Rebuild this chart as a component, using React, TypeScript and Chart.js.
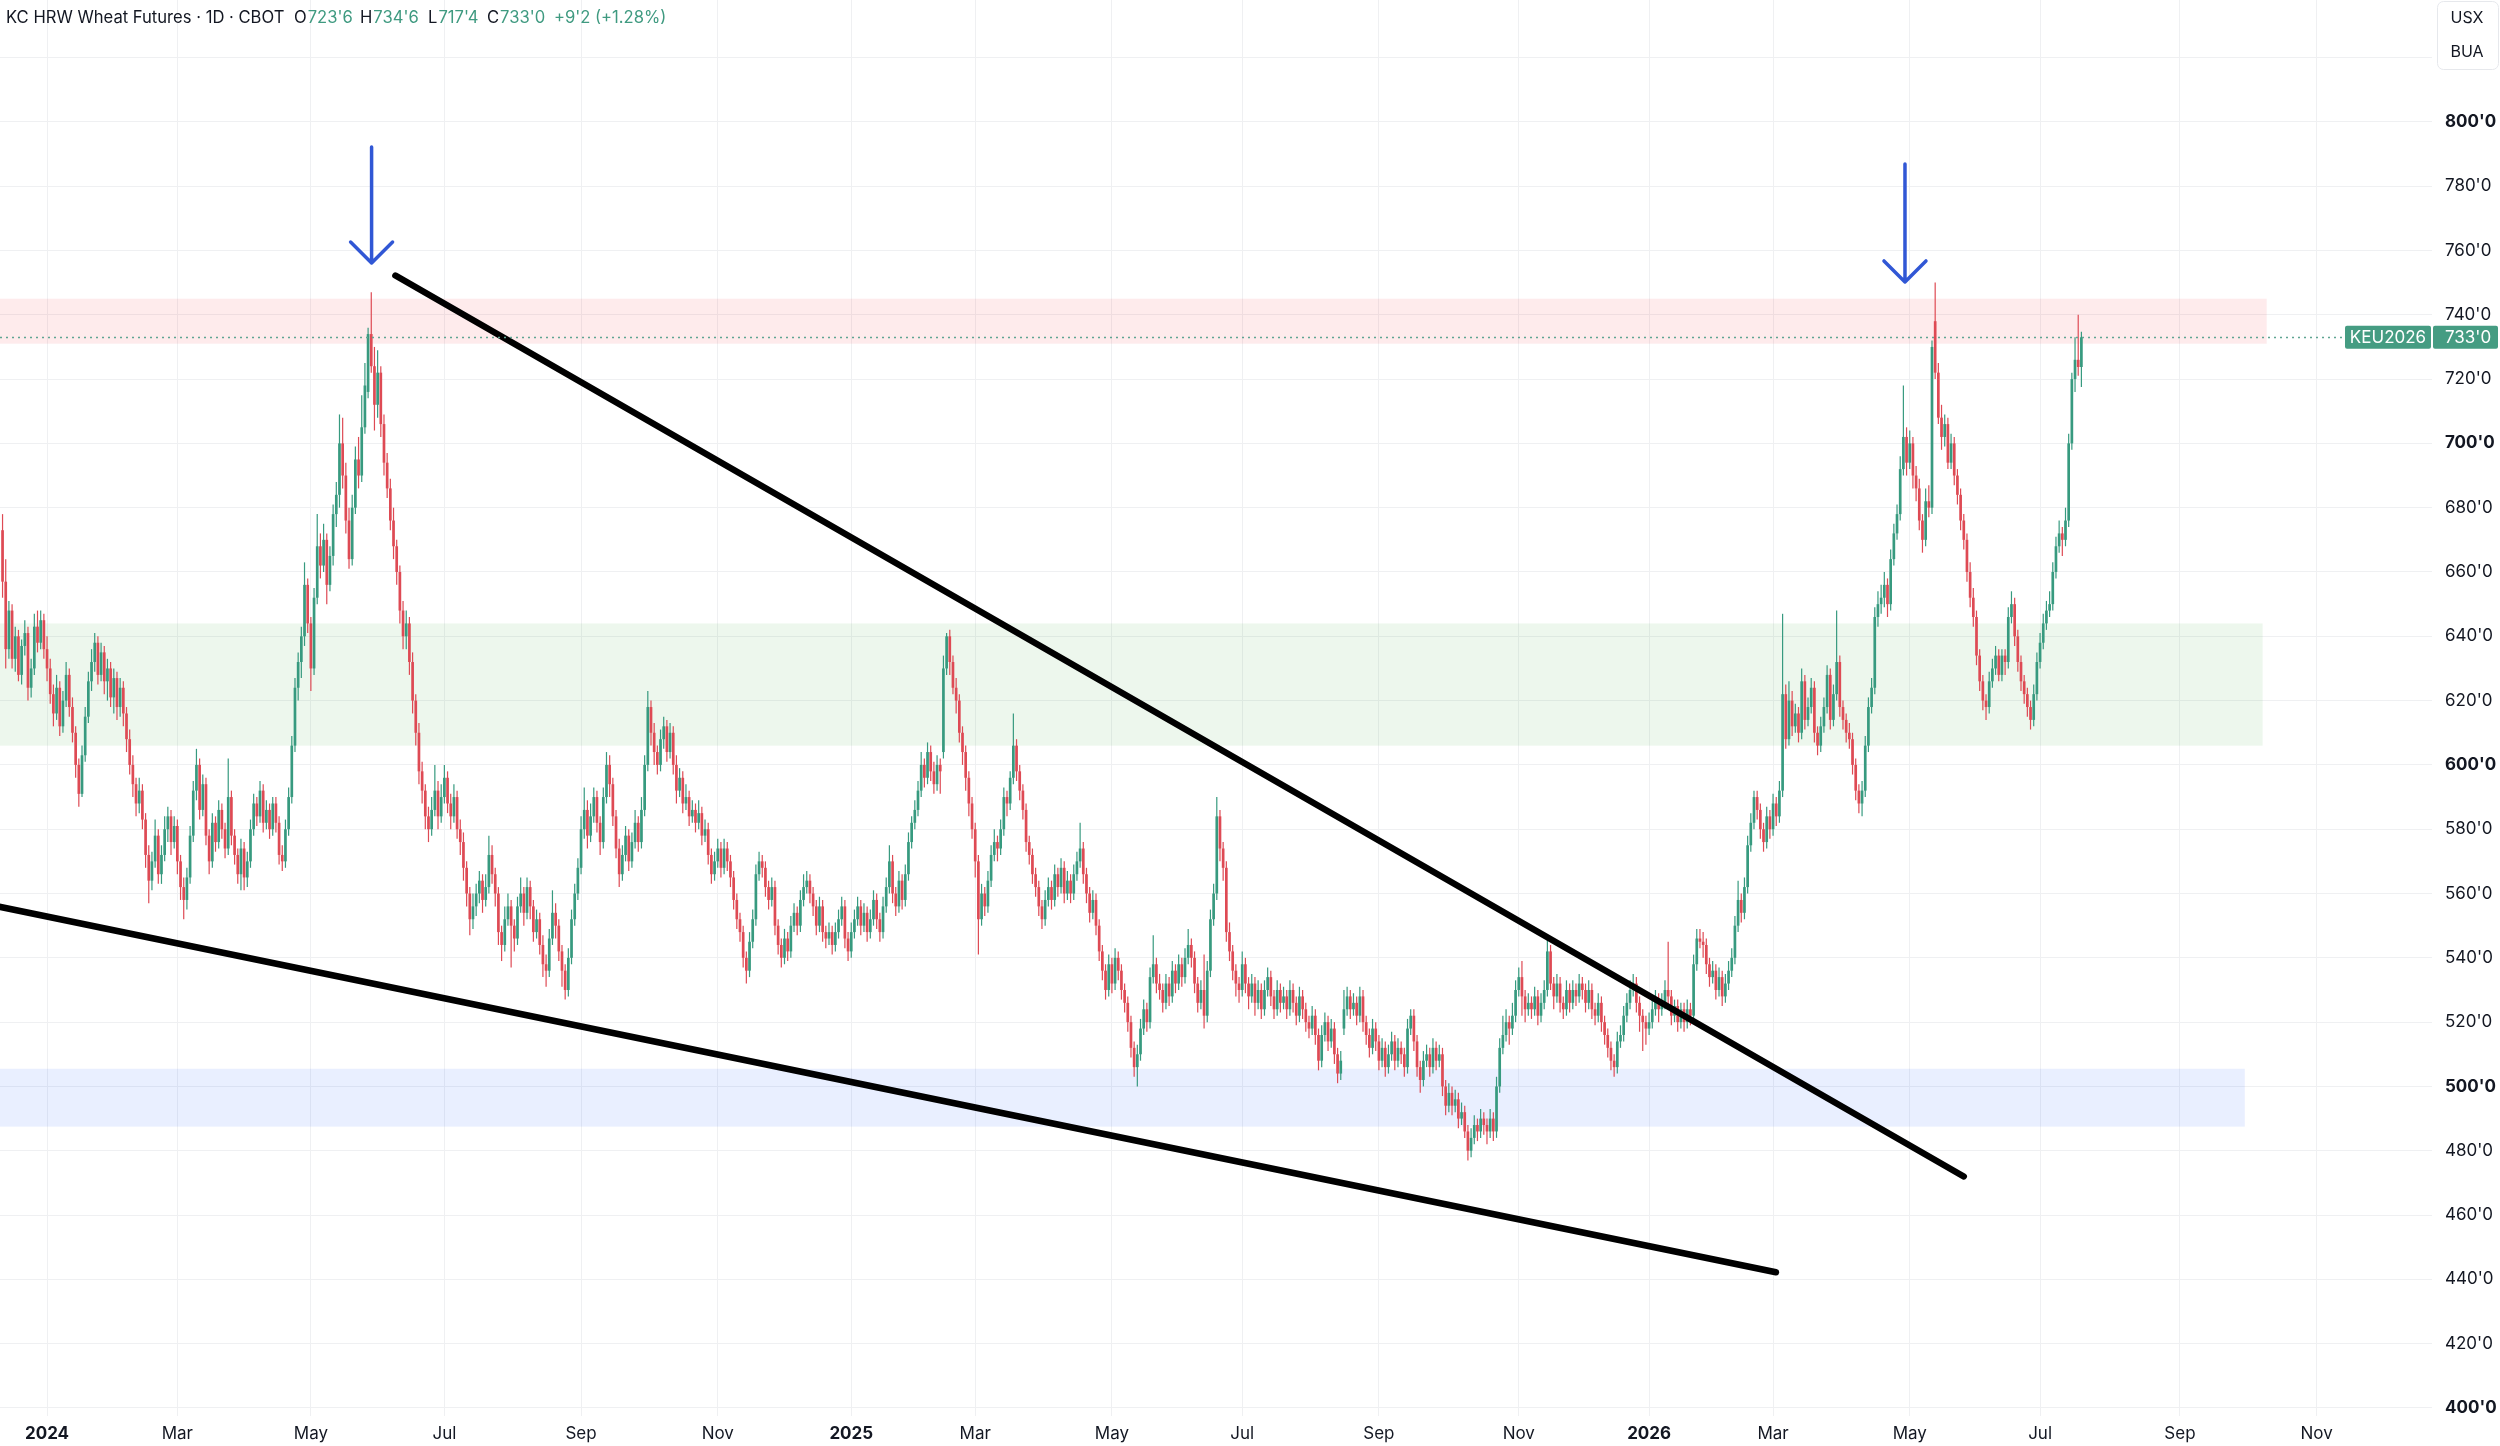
import React, { useEffect, useRef } from "react";
import { Chart, registerables } from "chart.js";

Chart.register(...registerables);

type Bar = [number, number, number, number]; // open, high, low, close

// bar index of the first candle (index 0 = first session of Jan 2024)
const FIRST_INDEX = -14;

const bars2023: Bar[] = [
  [673,678,652,657],[657,664,630,636],[636,651,633,648],[648,650,630,633],[633,643,629,640],[640,642,626,628],[628,639,625,637],[637,645,634,641],[641,643,620,624],[624,633,621,630],
  [630,647,628,643],[643,648,635,638],[638,648,636,645],[645,647,633,636],
];

const bars2024: Bar[] = [
  [636,640,626,630],[630,633,619,622],[622,625,612,616],[616,628,614,624],[624,626,609,612],[612,623,610,620],[620,632,618,628],[628,630,615,618],[618,621,607,610],[610,612,596,600],
  [600,602,587,591],[591,606,590,603],[603,618,601,615],[615,629,613,626],[626,636,623,632],[632,641,629,638],[638,640,625,628],[628,638,626,635],[635,637,622,626],[626,633,620,630],
  [630,632,618,621],[621,630,616,627],[627,629,614,618],[618,627,615,624],[624,626,612,616],[616,618,604,608],[608,611,597,600],[600,603,590,594],[594,596,584,588],[588,596,585,592],
  [592,594,580,583],[583,585,568,572],[572,575,557,564],[564,573,561,570],[570,583,568,578],[578,580,563,566],[566,575,563,572],[572,584,570,580],[580,587,576,584],[584,586,572,576],
  [576,584,574,581],[581,583,566,570],[570,572,558,562],[562,565,552,558],[558,568,555,565],[565,581,563,578],[578,595,576,592],[592,605,589,600],[600,602,583,586],[586,597,584,594],
  [594,596,575,578],[578,580,566,570],[570,585,568,582],[582,584,573,576],[576,589,574,586],[586,588,577,580],[580,582,571,574],[574,602,572,590],[590,592,575,578],[578,580,569,572],
  [572,574,563,566],[566,577,561,574],[574,576,561,565],[565,573,562,570],[570,583,568,580],[580,591,578,588],[588,590,581,584],[584,595,582,592],[592,594,579,582],[582,589,580,586],
  [586,588,577,580],[580,590,578,588],[588,590,579,582],[582,584,569,572],[572,575,567,570],[570,583,568,580],[580,593,578,590],[590,609,588,606],[606,627,604,624],[624,635,620,632],
  [632,643,627,640],[640,663,637,656],[656,658,641,644],[644,646,623,630],[630,655,628,652],[652,678,650,668],[668,672,658,662],[662,675,660,670],[670,672,650,656],[656,668,654,665],
  [665,681,662,678],[678,688,674,684],[684,709,680,700],[700,708,686,690],[690,694,672,676],[676,680,661,664],[664,684,662,680],[680,699,678,695],[695,702,686,690],[690,715,688,705],
  [705,725,703,718],[716,736,714,734],[734,747,722,724],[724,730,704,712],[712,729,708,722],[722,724,702,706],[706,709,690,694],[694,697,683,686],[686,689,673,676],[676,680,664,668],
  [668,670,656,660],[660,662,644,648],[648,651,636,640],[640,648,636,644],[644,646,628,632],[632,635,616,620],[620,622,606,610],[610,613,594,598],[598,601,588,592],[592,594,580,584],
  [584,587,576,580],[580,590,578,586],[586,600,584,592],[592,595,580,584],[584,594,582,590],[590,600,588,596],[596,598,585,588],[588,591,580,584],[584,594,582,590],[590,592,577,580],
  [580,583,572,576],[576,579,564,568],[568,570,556,560],[560,562,547,552],[552,560,549,556],[556,563,553,560],[560,567,557,564],[564,566,554,558],[558,566,556,562],[562,578,560,572],
  [572,575,563,566],[566,568,556,560],[560,562,544,548],[548,550,539,544],[544,556,542,552],[552,560,550,556],[556,558,537,550],[550,552,542,546],[546,559,544,556],[556,565,554,560],
  [560,562,550,554],[554,565,552,562],[562,564,552,556],[556,558,545,548],[548,555,546,552],[552,554,541,544],[544,547,534,538],[538,541,531,536],[536,549,534,546],[546,561,544,554],
  [554,557,546,550],[550,552,539,542],[542,544,531,536],[536,538,527,530],[530,543,528,540],[540,555,538,552],[552,563,550,560],[560,571,558,568],[568,584,566,580],[580,593,577,586],
  [586,589,574,578],[578,588,576,584],[584,593,582,590],[590,592,579,582],[582,584,572,576],[576,593,574,590],[590,604,588,600],[600,603,590,594],[594,596,581,584],[584,586,571,574],
  [574,577,562,566],[566,575,564,572],[572,581,570,578],[578,580,567,570],[570,579,568,576],[576,586,574,582],[582,584,573,576],[576,590,574,586],[586,603,584,600],[600,623,598,618],
  [618,620,606,610],[610,613,600,604],[604,606,597,600],[600,611,598,608],[608,615,605,612],[612,614,601,604],[604,613,602,610],[610,612,597,600],[600,603,588,592],[592,599,590,596],
  [596,598,585,588],[588,594,586,590],[590,592,581,584],[584,589,582,586],[586,588,579,582],[582,589,580,585],[585,587,575,578],[578,583,576,580],[580,582,569,572],[572,574,563,566],
  [566,573,564,570],[570,577,568,574],[574,576,565,568],[568,577,566,574],[574,576,567,570],[570,572,562,565],[565,567,555,558],[558,560,549,552],[552,554,545,548],[548,550,537,540],
  [540,542,532,536],[536,548,534,545],[545,555,543,552],[552,569,550,566],[566,573,564,570],[570,572,565,568],[568,570,559,562],[562,564,555,558],[558,565,556,562],[562,564,547,550],
  [550,552,541,544],[544,546,537,540],[540,549,538,546],[546,548,539,542],[542,553,540,550],[550,557,548,554],[554,556,547,550],[550,561,548,558],[558,566,556,562],[562,567,560,564],
  [564,566,557,560],[560,562,553,556],[556,558,547,550],[550,559,548,556],[556,558,545,548],[548,550,543,546],[546,551,544,548],[548,550,541,544],[544,551,542,548],[548,555,546,552],
  [552,559,550,556],[556,558,543,546],
];

const bars2025: Bar[] = [
  [546,548,539,542],[542,551,540,548],[548,555,546,552],[552,559,550,556],[556,558,547,550],[550,557,548,554],[554,556,545,548],[548,555,546,552],[552,561,550,558],[558,560,549,552],
  [552,554,545,548],[548,559,546,556],[556,565,554,562],[562,575,560,570],[570,572,557,560],[560,562,553,556],[556,567,554,564],[564,566,555,558],[558,569,556,566],[566,579,564,576],
  [576,584,574,582],[582,589,580,586],[586,595,584,592],[592,604,590,600],[600,602,593,596],[596,607,594,604],[604,606,595,598],[598,601,591,594],[594,603,592,600],[600,602,591,598],
  [604,634,602,630],[630,641,628,640],[640,642,628,632],[632,634,622,624],[624,627,616,620],[620,622,607,610],[610,612,600,604],[604,606,592,596],[596,598,584,588],[588,590,577,580],
  [580,582,565,570],[570,572,541,552],[552,563,550,560],[560,562,553,556],[556,567,554,564],[564,575,562,572],[572,580,570,576],[576,578,570,574],[574,583,572,580],[580,593,578,590],
  [590,592,584,588],[588,598,586,596],[596,616,594,606],[606,608,595,598],[598,600,589,592],[592,594,583,586],[586,588,573,576],[576,578,569,572],[572,574,563,566],[566,568,559,562],
  [562,564,553,556],[556,558,549,552],[552,561,550,558],[558,565,556,562],[562,564,555,558],[558,569,556,566],[566,568,559,562],[562,571,560,568],[568,570,557,560],[560,567,558,564],
  [564,566,557,560],[560,569,558,566],[566,573,564,570],[570,582,568,574],[574,576,563,566],[566,568,557,560],[560,562,551,554],[554,561,552,558],[558,560,547,550],[550,552,539,542],
  [542,544,533,536],[536,538,527,530],[530,541,528,538],[538,540,529,532],[532,543,530,540],[540,542,533,536],[536,538,527,530],[530,532,523,526],[526,528,517,520],[520,522,509,512],
  [512,514,503,506],[506,513,500,510],[510,521,508,518],[518,527,516,524],[524,526,517,520],[520,537,518,534],[534,547,532,538],[538,540,529,532],[532,535,527,530],[530,532,523,526],
  [526,535,524,532],[532,534,525,528],[528,539,526,536],[536,538,529,532],[532,541,530,538],[538,540,531,534],[534,543,532,540],[540,549,538,544],[544,546,537,540],[540,542,529,532],
  [532,534,523,526],[526,533,524,530],[530,541,518,522],[522,539,520,536],[536,555,534,552],[552,563,550,560],[560,590,558,584],[584,586,570,574],[574,576,564,568],[568,570,545,548],
  [548,551,539,542],[542,544,533,536],[536,538,528,532],[532,534,526,530],[530,542,528,538],[538,540,529,532],[532,534,524,528],[528,535,526,532],[532,534,522,526],[526,533,524,530],
  [530,532,521,524],[524,533,522,530],[530,537,528,534],[534,536,525,528],[528,530,521,524],[524,533,522,530],[530,532,523,526],[526,531,524,528],[528,530,521,524],[524,533,522,530],
  [530,532,523,526],[526,528,519,522],[522,531,520,528],[528,530,521,524],[524,526,517,520],[520,522,515,518],[518,525,516,522],[522,524,513,516],[516,518,505,508],[508,519,506,516],
  [516,523,514,520],[520,522,511,514],[514,521,512,518],[518,520,507,510],[510,512,501,504],[504,511,502,508],[518,530,516,524],[524,531,522,528],[528,530,521,524],[524,529,522,526],
  [526,528,519,522],[522,531,520,528],[528,530,517,520],[520,522,513,516],[516,518,509,512],[512,521,510,518],[518,520,511,514],[514,516,505,508],[508,515,506,512],[512,514,503,506],
  [506,513,504,510],[510,517,508,514],[514,516,505,508],[508,515,506,512],[512,514,507,510],[510,512,503,506],[506,521,504,518],[518,524,516,522],[522,524,511,514],[514,516,503,506],
  [506,508,498,502],[502,511,500,508],[508,513,506,510],[510,512,503,506],[506,515,504,512],[512,514,505,508],[508,513,506,510],[510,512,497,500],[500,502,491,494],[494,501,492,498],
  [498,500,491,494],[494,499,492,496],[496,498,487,490],[490,495,488,492],[492,494,484,486],[486,488,477,480],[480,487,478,484],[484,491,482,488],[488,490,483,486],[486,493,484,490],
  [490,492,485,488],[488,490,482,486],[486,493,484,490],[490,492,483,486],[486,503,484,500],[500,515,498,512],[512,522,510,516],[516,524,514,520],[520,522,513,518],[518,526,516,522],
  [522,533,520,530],[530,537,528,534],[534,539,522,528],[528,530,520,524],[524,529,522,526],[526,528,521,524],[524,531,522,528],[528,530,519,522],[522,529,520,526],[526,533,524,530],
  [530,547,528,542],[542,544,530,532],[532,534,524,528],[528,535,526,532],[532,534,523,526],[526,528,521,524],[524,533,522,530],[530,532,523,526],[526,533,524,530],[530,532,525,528],
  [528,535,526,532],[532,534,527,530],[530,532,523,526],[526,533,524,530],[530,532,521,524],[524,526,519,522],[522,529,520,526],[526,528,517,520],[520,522,513,516],[516,518,509,512],
  [512,514,505,508],[508,510,503,506],[506,517,504,514],[514,519,512,516],[516,525,514,522],[522,529,520,526],[526,533,524,530],[530,535,528,532],[532,534,523,526],[526,528,517,522],
  [522,524,511,520],[520,522,513,518],
];

const bars2026: Bar[] = [
  [518,523,516,520],[520,527,518,524],[524,530,522,527],[527,529,520,524],[524,529,522,526],[526,533,524,530],[530,545,525,528],[528,530,519,522],[522,527,520,525],[525,527,517,520],
  [520,526,518,524],[524,526,517,520],[520,527,518,524],[524,526,519,522],[522,541,520,538],[538,549,536,546],[546,549,543,545],[545,548,540,544],[544,546,535,538],[538,540,531,534],
  [534,539,532,536],[536,538,527,530],[530,537,528,534],[534,536,525,528],[528,535,526,532],[532,539,530,536],[536,543,534,540],[540,553,538,550],[550,564,548,558],[558,560,551,554],
  [554,565,552,562],[562,578,560,575],[575,585,573,582],[582,592,580,590],[590,592,583,586],[586,588,577,580],[580,582,573,576],[576,587,574,584],[584,586,577,580],[580,591,578,588],
  [588,590,581,584],[584,595,582,592],[592,647,590,622],[622,625,605,608],[608,626,606,620],[620,623,609,612],[612,619,610,616],[616,618,607,610],[610,630,608,626],[626,628,611,614],
  [614,621,612,618],[618,627,616,624],[624,626,607,610],[610,612,603,606],[606,615,604,612],[612,621,610,618],[618,631,616,628],[628,630,611,614],[614,625,612,622],[622,648,620,632],
  [632,634,615,618],[618,620,611,614],[614,616,607,610],[610,613,605,608],[608,610,597,600],[600,602,589,592],[592,594,585,588],[588,595,584,592],[592,609,590,606],[606,621,604,618],
  [618,627,616,624],[624,649,622,646],[646,654,643,650],[650,656,647,652],[652,660,649,656],[656,658,646,650],[650,667,648,664],[664,675,662,672],[672,681,670,678],[678,696,676,692],
  [692,718,690,702],[702,705,690,694],[694,704,692,700],[700,702,686,690],[690,693,682,686],[686,689,673,676],[676,678,666,670],[670,686,668,682],[682,687,677,680],[680,732,678,730],
  [738,750,720,722],[722,725,706,708],[708,712,698,702],[702,709,699,706],[706,708,692,694],[694,703,692,700],[700,702,687,690],[690,692,681,684],[684,686,673,676],[676,678,667,670],
  [670,672,657,660],[660,663,649,652],[652,655,643,646],[646,648,631,634],[634,636,623,626],[626,628,617,620],[620,622,614,618],[618,629,616,626],[626,633,624,630],[630,637,628,634],
  [634,636,626,628],[628,636,626,634],[634,636,628,632],[632,649,630,646],[646,654,644,650],[650,652,637,640],[640,642,629,632],[632,634,623,626],[626,628,619,622],[622,624,615,618],
  [618,620,611,614],[614,625,612,622],[622,635,620,632],[632,641,630,638],[638,647,636,644],[644,651,642,648],[648,654,646,650],[650,663,648,660],[660,671,658,668],[668,676,666,672],
  [672,674,665,670],[670,680,668,676],[676,703,674,700],[700,722,698,720],[720,733,716,726],[726,740,721,723.75],[723.75,734.75,717.5,733],
];

// time axis: bar index of the first session of each labelled month
const monthTickIndex = [0, 41, 83, 125, 168, 211, 253, 292, 335, 376, 419, 463, 504, 543, 586, 627, 671, 714];
const monthTickLabel = ["2024", "Mar", "May", "Jul", "Sep", "Nov", "2025", "Mar", "May", "Jul", "Sep", "Nov", "2026", "Mar", "May", "Jul", "Sep", "Nov"];

// price axis ticks
const priceTicks = [400, 420, 440, 460, 480, 500, 520, 540, 560, 580, 600, 620, 640, 660, 680, 700, 720, 740, 760, 780, 800, 820];

// visible ranges
const X_MIN = -14.8;
const X_MAX = 750.3;
const Y_MIN = 397.5;
const Y_MAX = 837.9;

// drawn zones (price bands), in bar index / price units
const zoneStart = [-40, -40, -40];
const zoneEnd = [698.3, 697, 691.4];
const zoneTop = [745, 644, 505.5];
const zoneBottom = [731, 606, 487.5];
const zoneColor = ["rgba(242,54,69,0.10)", "rgba(76,175,80,0.10)", "rgba(41,98,255,0.10)"];

// trend lines (bar index, price)
const upperTrend = [{ x: 109.6, y: 752.2 }, { x: 603.0, y: 472.0 }];
const lowerTrend = [{ x: -20, y: 556.9 }, { x: 543.9, y: 442.2 }];

// arrows (bar index, top price, tip price)
const arrowIndex = [102.1, 584.5];
const arrowTop = [792.2, 786.9];
const arrowTip = [756.1, 750.2];

const symbolTitle = "KC HRW Wheat Futures · 1D · CBOT";
const contractName = "KEU2026";
const unitLabels = ["USX", "BUA"];

const UP = "#379a7f";
const DOWN = "#de4a54";
const GREEN_TEXT = "#3f9a80";
const TEXT = "#131722";
const GRID = "#eff0f2";
const FONT = 'Inter, "Noto Sans", Roboto, sans-serif';

function fmtPrice(v: number): string {
  const whole = Math.floor(v + 1e-9);
  const eighths = Math.round((v - whole) * 8);
  return `${whole}'${eighths}`;
}

const allBars: Bar[] = [...bars2023, ...bars2024, ...bars2025, ...bars2026];

export default function App() {
  const canvasRef = useRef<HTMLCanvasElement | null>(null);

  useEffect(() => {
    document.body.style.margin = "0";
    document.body.style.overflow = "hidden";
    document.body.style.background = "#ffffff";
    const canvas = canvasRef.current;
    if (!canvas) return;

    const xs = allBars.map((_, i) => FIRST_INDEX + i);
    const colors = allBars.map((b) => (b[3] >= b[0] ? UP : DOWN));
    const wickData = allBars.map((b, i) => ({ x: xs[i], y: [b[2], b[1]] }));
    const bodyData = allBars.map((b, i) => ({ x: xs[i], y: [Math.min(b[0], b[3]), Math.max(b[0], b[3])] }));

    const last = allBars[allBars.length - 1];
    const prev = allBars[allBars.length - 2];
    const change = last[3] - prev[3];
    const pct = (change / prev[3]) * 100;

    const overlay = {
      id: "overlay",
      beforeDatasetsDraw(chart: any) {
        const { ctx, chartArea: a, scales } = chart;
        const x = scales.x, y = scales.y;
        ctx.save();
        ctx.beginPath();
        ctx.rect(a.left, a.top, a.right - a.left, a.bottom - a.top);
        ctx.clip();
        for (let k = 0; k < zoneTop.length; k++) {
          const x0 = x.getPixelForValue(zoneStart[k]);
          const x1 = x.getPixelForValue(zoneEnd[k]);
          const y0 = y.getPixelForValue(zoneTop[k]);
          const y1 = y.getPixelForValue(zoneBottom[k]);
          ctx.fillStyle = zoneColor[k];
          ctx.fillRect(x0, y0, x1 - x0, y1 - y0);
        }
        ctx.restore();
      },
      afterDatasetsDraw(chart: any) {
        const { ctx, chartArea: a, scales } = chart;
        const x = scales.x, y = scales.y;
        const py = Math.round(y.getPixelForValue(last[3])) + 0.5;
        ctx.save();
        ctx.strokeStyle = "#5fa592";
        ctx.lineWidth = 1.5;
        ctx.setLineDash([2, 4]);
        ctx.beginPath();
        ctx.moveTo(a.left, py);
        ctx.lineTo(a.right - 86, py);
        ctx.stroke();
        ctx.setLineDash([]);
        ctx.strokeStyle = "#3157d5";
        ctx.lineWidth = 3.5;
        ctx.lineCap = "round";
        ctx.lineJoin = "round";
        for (let k = 0; k < arrowIndex.length; k++) {
          const ax = x.getPixelForValue(arrowIndex[k]);
          const ay0 = y.getPixelForValue(arrowTop[k]);
          const ay1 = y.getPixelForValue(arrowTip[k]);
          ctx.beginPath();
          ctx.moveTo(ax, ay0);
          ctx.lineTo(ax, ay1);
          ctx.moveTo(ax - 21, ay1 - 21);
          ctx.lineTo(ax, ay1);
          ctx.lineTo(ax + 21, ay1 - 21);
          ctx.stroke();
        }
        ctx.restore();
      },
      afterDraw(chart: any) {
        const { ctx, chartArea: a, scales } = chart;
        const y = scales.y;
        ctx.save();
        ctx.font = `16.6px ${FONT}`;
        ctx.textBaseline = "middle";
        ctx.textAlign = "left";
        const hy = 18;
        ctx.fillStyle = TEXT;
        ctx.fillText(symbolTitle, 6, hy);
        const parts: [string, string, number][] = [
          ["O", fmtPrice(last[0]), 294],
          ["H", fmtPrice(last[1]), 360],
          ["L", fmtPrice(last[2]), 428],
          ["C", fmtPrice(last[3]), 487],
        ];
        for (const [lab, val, px] of parts) {
          ctx.fillStyle = TEXT;
          ctx.fillText(lab, px, hy);
          const w = ctx.measureText(lab).width;
          ctx.fillStyle = GREEN_TEXT;
          ctx.fillText(val, px + w + 1, hy);
        }
        ctx.fillStyle = GREEN_TEXT;
        ctx.fillText(`${change >= 0 ? "+" : ""}${fmtPrice(change)} (${change >= 0 ? "+" : ""}${pct.toFixed(2)}%)`, 554, hy);

        const py = y.getPixelForValue(last[3]);
        const bh = 23;
        ctx.fillStyle = "#459c82";
        ctx.beginPath();
        (ctx as any).roundRect(a.right - 87, py - bh / 2, 86, bh, 2);
        ctx.fill();
        ctx.beginPath();
        (ctx as any).roundRect(a.right + 1, py - bh / 2, 65, bh, 2);
        ctx.fill();
        ctx.fillStyle = "#ffffff";
        ctx.font = `17px ${FONT}`;
        ctx.textAlign = "center";
        ctx.fillText(contractName, a.right - 44, py + 0.5);
        ctx.textAlign = "left";
        ctx.fillText(fmtPrice(last[3]), a.right + 13, py + 0.5);

        ctx.fillStyle = "#ffffff";
        ctx.strokeStyle = "#e6e8ec";
        ctx.lineWidth = 1;
        ctx.beginPath();
        (ctx as any).roundRect(2437.5, 1.5, 61, 68, 6);
        ctx.fill();
        ctx.stroke();
        ctx.fillStyle = TEXT;
        ctx.font = `16px ${FONT}`;
        ctx.textAlign = "center";
        ctx.fillText(unitLabels[0], 2467, 18);
        ctx.fillText(unitLabels[1], 2467, 52);
        ctx.restore();
      },
    };

    const chart = new Chart(canvas, {
      type: "bar",
      data: {
        datasets: [
          {
            type: "line",
            data: upperTrend,
            borderColor: "#000000",
            borderWidth: 6.5,
            pointRadius: 0,
            borderCapStyle: "round",
            order: 0,
          } as any,
          {
            type: "line",
            data: lowerTrend,
            borderColor: "#000000",
            borderWidth: 6.5,
            pointRadius: 0,
            borderCapStyle: "round",
            order: 0,
          } as any,
          {
            type: "bar",
            data: bodyData,
            backgroundColor: colors,
            borderWidth: 0,
            barThickness: 2.7,
            minBarLength: 1,
            grouped: false,
            inflateAmount: 0,
            order: 1,
          } as any,
          {
            type: "bar",
            data: wickData,
            backgroundColor: colors,
            borderWidth: 0,
            barThickness: 1.2,
            grouped: false,
            inflateAmount: 0,
            order: 2,
          } as any,
        ],
      },
      options: {
        responsive: true,
        maintainAspectRatio: false,
        animation: false,
        devicePixelRatio: 1,
        events: [],
        layout: { padding: 0, autoPadding: false } as any,
        plugins: { legend: { display: false }, tooltip: { enabled: false } },
        scales: {
          x: {
            type: "linear",
            min: X_MIN,
            max: X_MAX,
            offset: false,
            grid: { color: GRID, lineWidth: 1, drawTicks: false, tickLength: 0, offset: false } as any,
            border: { display: false },
            afterBuildTicks: (s: any) => {
              s.ticks = monthTickIndex.map((v) => ({ value: v }));
            },
            afterFit: (s: any) => {
              s.height = 30;
              s.paddingLeft = 0;
              s.paddingRight = 0;
            },
            ticks: {
              autoSkip: false,
              maxRotation: 0,
              minRotation: 0,
              padding: 8,
              color: TEXT,
              font: (c: any) => ({
                family: FONT,
                size: 17,
                weight: /^\d{4}$/.test(monthTickLabel[c.index] || "") ? "bold" : "normal",
              }),
              callback: (_v: any, i: number) => monthTickLabel[i],
            },
          } as any,
          y: {
            type: "linear",
            position: "right",
            min: Y_MIN,
            max: Y_MAX,
            beginAtZero: false,
            grid: { color: GRID, lineWidth: 1, drawTicks: false, tickLength: 0 } as any,
            border: { display: false },
            afterBuildTicks: (s: any) => {
              s.ticks = priceTicks.map((v) => ({ value: v }));
            },
            afterFit: (s: any) => {
              s.width = 68;
              s.paddingTop = 0;
              s.paddingBottom = 0;
            },
            ticks: {
              padding: 13,
              crossAlign: "near",
              color: TEXT,
              font: (c: any) => ({
                family: FONT,
                size: 17,
                weight: c.tick && c.tick.value % 100 === 0 ? "bold" : "normal",
              }),
              callback: (v: any) => fmtPrice(Number(v)),
            },
          } as any,
        },
      },
      plugins: [overlay],
    });

    return () => chart.destroy();
  }, []);

  return (
    <div style={{ width: 2500, height: 1446, position: "relative", background: "#ffffff" }}>
      <canvas ref={canvasRef} />
    </div>
  );
}
